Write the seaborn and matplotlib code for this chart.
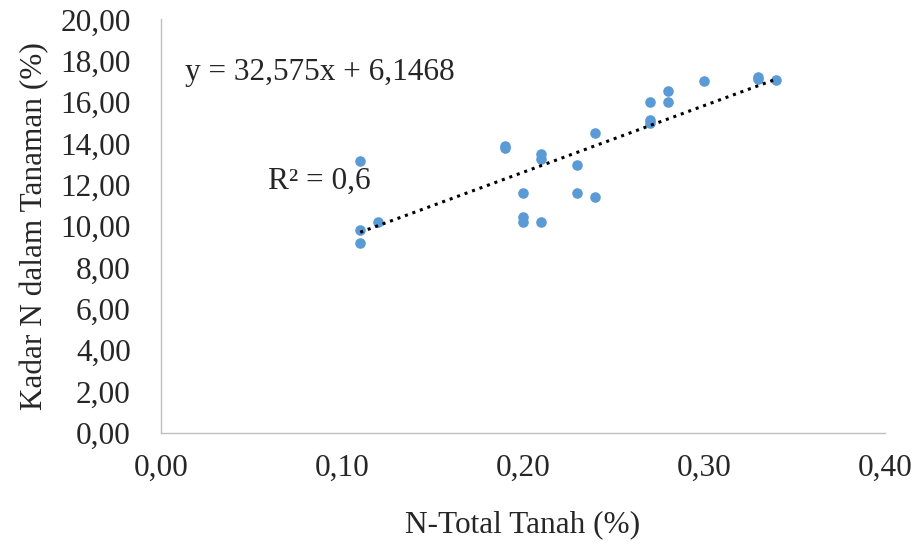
import numpy as np
import pandas as pd
import matplotlib.pyplot as plt
import seaborn as sns
from matplotlib.ticker import FuncFormatter

# data
n_tanah = [0.11, 0.11, 0.11, 0.12, 0.19, 0.19, 0.20, 0.20, 0.20, 0.21, 0.21, 0.21,
           0.23, 0.23, 0.24, 0.24, 0.27, 0.27, 0.27, 0.28, 0.28, 0.30, 0.33, 0.33, 0.34]
kadar_n = [13.15, 9.81, 9.19, 10.18, 13.9, 13.8, 11.6, 10.45, 10.18, 13.5, 13.25, 10.18,
           12.98, 11.6, 14.53, 11.42, 16.0, 15.15, 15.0, 16.52, 16.0, 17.0, 17.2, 17.1, 17.07]
eq_text = "y = 32,575x + 6,1468"
r2_text = "R² = 0,6"

df = pd.DataFrame({"x": n_tanah, "y": kadar_n})

sns.set_style("white")
plt.rcParams['font.family'] = ['Liberation Serif', 'DejaVu Serif']
fs = 22.5

fig = plt.figure(figsize=(9.16, 5.5), dpi=100)
ax = fig.add_axes([0.176, 0.2127, 0.79, 0.752])

sns.regplot(data=df, x="x", y="y", ax=ax, ci=None, truncate=True,
            scatter_kws=dict(color="#5B9BD5", s=58, alpha=1, linewidths=0),
            line_kws=dict(color="black", linestyle=(0, (1, 1.6)), linewidth=2.2))

ax.set_xlim(0, 0.40)
ax.set_ylim(0, 20)
ax.set_xticks(np.arange(0, 0.41, 0.1))
ax.set_yticks(np.arange(0, 20.1, 2))
ax.xaxis.set_major_formatter(FuncFormatter(lambda v, p: f"{v:.2f}".replace(".", ",")))
ax.yaxis.set_major_formatter(FuncFormatter(lambda v, p: f"{v:.2f}".replace(".", ",")))
ax.tick_params(axis="both", labelsize=fs, length=0)
ax.tick_params(axis="x", pad=15)
ax.tick_params(axis="y", pad=22)

for s in ["top", "right"]:
    ax.spines[s].set_visible(False)
for s in ["left", "bottom"]:
    ax.spines[s].set_color("#bfbfbf")
    ax.spines[s].set_linewidth(1.0)

ax.set_xlabel("N-Total Tanah (%)", fontsize=fs, labelpad=20)
ax.set_ylabel("Kadar N dalam Tanaman (%)", fontsize=fs, labelpad=8)

ax.text(0.0133, 17.44, eq_text, fontsize=fs, va="center", ha="left")
ax.text(0.059, 12.17, r2_text, fontsize=fs, va="center", ha="left")

fig.savefig("out.png", dpi=100)
